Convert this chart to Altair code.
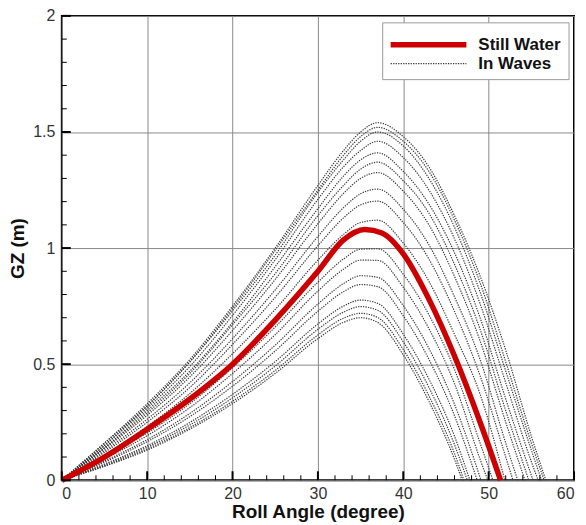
import altair as alt
import pandas as pd

# ---- data ----
grid_x = [0, 5, 10, 15, 20, 25, 30, 33, 35, 37, 40, 43, 46, 49, 52, 55]

still_x = [0, 5, 10, 15, 20, 25, 30, 33, 35.5, 37.5, 40, 43, 46, 49, 51.4]
still_y = [0, 0.10, 0.22, 0.35, 0.50, 0.69, 0.90, 1.035, 1.08, 1.065, 0.975, 0.78, 0.535, 0.25, 0]

wave_01 = [0, 0.16, 0.33, 0.52, 0.75, 1.00, 1.27, 1.42, 1.50, 1.54, 1.48, 1.35, 1.14, 0.88, 0.56, 0.19]
wave_02 = [0, 0.16, 0.32, 0.51, 0.74, 0.99, 1.25, 1.40, 1.48, 1.52, 1.46, 1.33, 1.12, 0.85, 0.51, 0.16]
wave_03 = [0, 0.15, 0.32, 0.51, 0.73, 0.97, 1.24, 1.38, 1.46, 1.50, 1.44, 1.30, 1.09, 0.81, 0.47, 0.13]
wave_04 = [0, 0.15, 0.31, 0.49, 0.71, 0.95, 1.21, 1.35, 1.42, 1.46, 1.39, 1.25, 1.04, 0.76, 0.42, 0.08]
wave_05 = [0, 0.14, 0.30, 0.47, 0.68, 0.92, 1.17, 1.31, 1.38, 1.41, 1.33, 1.19, 0.98, 0.70, 0.35]
wave_06 = [0, 0.14, 0.29, 0.46, 0.67, 0.89, 1.14, 1.27, 1.34, 1.37, 1.29, 1.15, 0.93, 0.65, 0.30]
wave_07 = [0, 0.135, 0.28, 0.445, 0.645, 0.865, 1.105, 1.235, 1.30, 1.325, 1.245, 1.10, 0.878, 0.60, 0.25]
wave_08 = [0, 0.127, 0.263, 0.42, 0.61, 0.82, 1.05, 1.174, 1.234, 1.254, 1.167, 1.014, 0.79, 0.52, 0.16]
wave_09 = [0, 0.12, 0.25, 0.40, 0.585, 0.788, 1.01, 1.13, 1.186, 1.202, 1.11, 0.953, 0.727, 0.45, 0.10]
wave_10 = [0, 0.11, 0.232, 0.374, 0.545, 0.736, 0.948, 1.059, 1.11, 1.12, 1.021, 0.857, 0.628, 0.37]
wave_11 = [0, 0.097, 0.204, 0.33, 0.485, 0.66, 0.853, 0.953, 0.995, 0.997, 0.887, 0.713, 0.477, 0.16]
wave_12 = [0, 0.091, 0.192, 0.313, 0.46, 0.627, 0.815, 0.909, 0.948, 0.947, 0.831, 0.653, 0.416, 0.09]
wave_13 = [0, 0.083, 0.175, 0.288, 0.425, 0.582, 0.759, 0.847, 0.881, 0.874, 0.752, 0.568, 0.327]
wave_14 = [0, 0.078, 0.166, 0.274, 0.405, 0.557, 0.728, 0.812, 0.843, 0.834, 0.708, 0.521, 0.278]
wave_15 = [0, 0.07, 0.149, 0.249, 0.37, 0.511, 0.673, 0.75, 0.776, 0.762, 0.629, 0.436, 0.19]
wave_16 = [0, 0.066, 0.142, 0.238, 0.355, 0.492, 0.65, 0.724, 0.748, 0.732, 0.596, 0.40, 0.153]
wave_17 = [0, 0.062, 0.135, 0.227, 0.34, 0.473, 0.626, 0.698, 0.719, 0.701, 0.563, 0.364, 0.115]
wave_18 = [0, 0.06, 0.13, 0.22, 0.33, 0.46, 0.61, 0.68, 0.70, 0.68, 0.54, 0.34, 0.09]
wave_curves = [wave_01, wave_02, wave_03, wave_04, wave_05, wave_06, wave_07, wave_08, wave_09,
               wave_10, wave_11, wave_12, wave_13, wave_14, wave_15, wave_16, wave_17, wave_18]
wave_zero_x = [56.7, 56.5, 56.2, 55.8, 55.2, 54.7, 54.25, 53.4, 52.85, 51.9, 50.5, 49.9,
               49.1, 48.65, 47.8, 47.5, 47.1, 46.9]

x_major = [0, 10, 20, 30, 40, 50, 60]
x_minor = [2, 4, 6, 8, 12, 14, 16, 18, 22, 24, 26, 28, 32, 34, 36, 38, 42, 44, 46, 48, 52, 54, 56, 58]
y_major = [0, 0.5, 1, 1.5, 2]
y_minor = [0.1, 0.2, 0.3, 0.4, 0.6, 0.7, 0.8, 0.9, 1.1, 1.2, 1.3, 1.4, 1.6, 1.7, 1.8, 1.9]

series_names = ["Still Water", "In Waves"]

# ---- tables ----
df_still = pd.DataFrame({"x": still_x, "y": still_y, "o": list(range(len(still_x)))})
rows = []
for k, (ys, xz) in enumerate(zip(wave_curves, wave_zero_x)):
    pts = list(zip(grid_x[:len(ys)], ys)) + [(xz, 0.0)]
    for i, (xv, yv) in enumerate(pts):
        rows.append({"x": xv, "y": yv, "curve": f"w{k:02d}", "o": i})
df_wave = pd.DataFrame(rows)
df_xmaj = pd.DataFrame({"x": [float(v) for v in x_major]})
df_xmin = pd.DataFrame({"x": [float(v) for v in x_minor]})
df_ymaj = pd.DataFrame({"y": [float(v) for v in y_major]})
df_ymin = pd.DataFrame({"y": [float(v) for v in y_minor]})

W, H = 514, 466
FONT = "Liberation Sans"
RED = "#cc0000"
WAVE = "#3a3a3a"
WAVE_DASH = [1.3, 1.2]
TICK = "black"

xscale = alt.Scale(domain=[0, 60], nice=False, zero=False)
yscale = alt.Scale(domain=[0, 2], nice=False, zero=False)
xaxis = alt.Axis(title="Roll Angle (degree)", values=x_major, ticks=False, domain=False,
                 grid=True, gridColor="#8a8a8a", gridWidth=1, labelFontSize=16,
                 labelColor="#333", labelFont=FONT, labelPadding=5,
                 titleFont=FONT, titleFontSize=19, titleFontWeight="bold",
                 titleColor="#111", titlePadding=1)
yaxis = alt.Axis(title="GZ (m)", values=y_major, format="~g", ticks=False, domain=False,
                 grid=True, gridColor="#8a8a8a", gridWidth=1, labelFontSize=16,
                 labelColor="#333", labelFont=FONT, labelPadding=7,
                 titleFont=FONT, titleFontSize=19, titleFontWeight="bold",
                 titleColor="#111", titlePadding=5)

X = alt.X("x:Q", scale=xscale, axis=xaxis)
Y = alt.Y("y:Q", scale=yscale, axis=yaxis)

waves = alt.Chart(df_wave).mark_line(
    interpolate="monotone", color=WAVE, strokeWidth=1.2, strokeDash=WAVE_DASH
).encode(x=X, y=Y, detail="curve:N", order="o:Q")
still = alt.Chart(df_still).mark_line(
    interpolate="monotone", color=RED, strokeWidth=5.5
).encode(x=X, y=Y, order="o:Q")

# inward axis ticks
xt_major = alt.Chart(df_xmaj).mark_rule(color=TICK, strokeWidth=2).encode(
    x=X, y=alt.value(H), y2=alt.value(H - 9))
xt_minor = alt.Chart(df_xmin).mark_rule(color=TICK, strokeWidth=1).encode(
    x=X, y=alt.value(H), y2=alt.value(H - 5))
yt_major = alt.Chart(df_ymaj).mark_rule(color=TICK, strokeWidth=2).encode(
    y=Y, x=alt.value(0), x2=alt.value(9))
yt_minor = alt.Chart(df_ymin).mark_rule(color=TICK, strokeWidth=1).encode(
    y=Y, x=alt.value(0), x2=alt.value(5))

# ---- legend box (drawn in pixel space inside the plot) ----
one = pd.DataFrame({"a": [0]})
leg_box = alt.Chart(one).mark_rect(fill="white", stroke="#9a9a9a", strokeWidth=1).encode(
    x=alt.value(322), x2=alt.value(509), y=alt.value(7), y2=alt.value(64))
leg_red = alt.Chart(one).mark_rule(color=RED, strokeWidth=5.5).encode(
    x=alt.value(330), x2=alt.value(406), y=alt.value(29))
leg_wave = alt.Chart(one).mark_rule(color=WAVE, strokeWidth=1.2, strokeDash=WAVE_DASH).encode(
    x=alt.value(330), x2=alt.value(406), y=alt.value(48))
leg_t1 = alt.Chart(one).mark_text(align="left", baseline="middle", font=FONT, fontSize=17,
                                  fontWeight="bold", color="#111").encode(
    x=alt.value(418), y=alt.value(29), text=alt.value(series_names[0]))
leg_t2 = alt.Chart(one).mark_text(align="left", baseline="middle", font=FONT, fontSize=17,
                                  fontWeight="bold", color="#111").encode(
    x=alt.value(418), y=alt.value(48), text=alt.value(series_names[1]))

chart = alt.layer(waves, still, xt_major, xt_minor, yt_major, yt_minor,
                  leg_box, leg_red, leg_wave, leg_t1, leg_t2).properties(
    width=W, height=H,
    autosize=alt.AutoSizeParams(type="none"),
    padding={"left": 54, "top": 7, "right": 4, "bottom": 43},
).configure_view(stroke="black", strokeWidth=2)

chart.save("out.html", embed_options={"renderer": "svg", "actions": False})
